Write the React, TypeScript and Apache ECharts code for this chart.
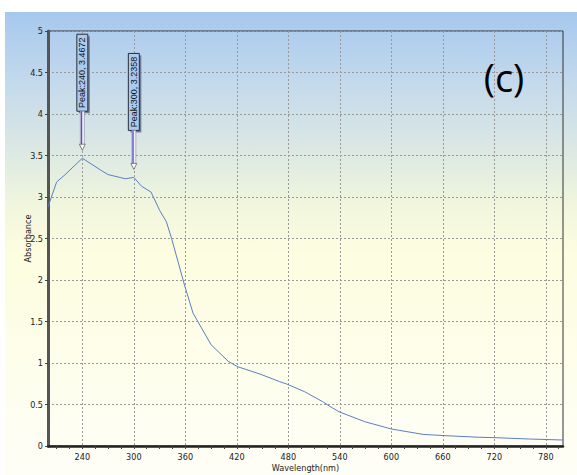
import React, { useEffect, useRef } from "react";
import * as echarts from "echarts";

const wavelength = [200, 210, 220, 240, 262, 270, 290, 300, 309, 320, 330, 338, 344, 359, 369, 390, 410, 421, 447, 470, 478, 499, 520, 528, 539, 569, 600, 637, 664, 703, 722, 761, 800];
const absorbance = [2.88, 3.18, 3.27, 3.4672, 3.32, 3.27, 3.22, 3.2358, 3.13, 3.06, 2.84, 2.7, 2.5, 1.94, 1.6, 1.22, 1.02, 0.955, 0.867, 0.775, 0.747, 0.654, 0.534, 0.48, 0.413, 0.293, 0.205, 0.14, 0.124, 0.105, 0.1, 0.084, 0.072];
const peakWavelengths = [240, 300];
const peakValues = [3.4672, 3.2358];
const peakLabels = ["Peak:240, 3.4672", "Peak:300, 3.2358"];
const xMajorTicks = [240, 300, 360, 420, 480, 540, 600, 660, 720, 780];
const xMinorTicks = [210, 225, 240, 255, 270, 285, 300, 315, 330, 345, 360, 375, 390, 405, 420, 435, 450, 465, 480, 495, 510, 525, 540, 555, 570, 585, 600, 615, 630, 645, 660, 675, 690, 705, 720, 735, 750, 765, 780, 795];

const labelFont = "'Liberation Sans Narrow', 'DejaVu Sans Condensed', 'Liberation Sans', sans-serif";

export default function App() {
  const ref = useRef<HTMLDivElement>(null);
  useEffect(() => {
    document.body.style.margin = "0";
    const chart = echarts.init(ref.current!, null, { renderer: "svg" });
    const curve = wavelength.map((w, i) => [w, absorbance[i]]);
    const peaks = peakWavelengths.map((w, i) => [w, peakValues[i], i]);
    const option: any = {
      animation: false,
      graphic: [
        {
          type: "rect",
          z: -10,
          silent: true,
          shape: { x: 5, y: 12, width: 572, height: 463 },
          style: {
            fill: {
              type: "linear", x: 0, y: 0, x2: 0, y2: 1,
              colorStops: [
                { offset: 0, color: "#a6c8ee" },
                { offset: 0.15, color: "#c3d9ec" },
                { offset: 0.3, color: "#dce8e3" },
                { offset: 0.42, color: "#f1f6dd" },
                { offset: 0.52, color: "#fdfde0" },
                { offset: 1, color: "#fefef7" },
              ],
            },
          },
        },
        {
          type: "text",
          z: 20,
          x: 504,
          y: 77,
          style: {
            text: "(c)",
            fontSize: 38,
            fontFamily: "'Open Sans', 'Noto Sans', sans-serif",
            fill: "#000",
            align: "center",
            verticalAlign: "middle",
          },
        },
      ],
      grid: {
        left: 48, top: 31, right: 14, bottom: 29,
        outerBoundsMode: "none",
        containLabel: false,
        show: true, borderColor: "#333", borderWidth: 1, backgroundColor: "transparent",
      },
      xAxis: [
        {
          type: "value", min: 200, max: 800, position: "bottom",
          name: "Wavelength(nm)", nameLocation: "middle", nameGap: 17, nameMoveOverlap: false,
          nameTextStyle: { fontSize: 9, color: "#222", fontFamily: labelFont },
          axisLine: { show: true, onZero: false, lineStyle: { color: "#222", width: 2.5 } },
          axisTick: { show: true, customValues: xMajorTicks, length: 3, lineStyle: { color: "#444" } },
          axisLabel: { customValues: xMajorTicks, fontSize: 9, color: "#222", margin: 6, fontFamily: labelFont },
          splitLine: { show: true, lineStyle: { color: "#999", type: [2, 2], width: 1 } },
        },
        {
          type: "value", min: 200, max: 800, position: "bottom",
          axisLine: { show: false, onZero: false },
          axisTick: { show: true, customValues: xMinorTicks, length: 3, lineStyle: { color: "#444" } },
          axisLabel: { show: false },
          splitLine: { show: false },
        },
      ],
      yAxis: {
        type: "value", min: 0, max: 5, interval: 0.5,
        name: "Absorbance", nameLocation: "middle", nameGap: 16, nameMoveOverlap: false,
        nameTextStyle: { fontSize: 9, color: "#222", fontFamily: labelFont },
        axisLine: { show: true, lineStyle: { color: "#555", width: 3 } },
        axisTick: { show: true, length: 3, lineStyle: { color: "#444" } },
        axisLabel: { fontSize: 9, color: "#222", margin: 5, fontFamily: labelFont },
        splitLine: { show: true, lineStyle: { color: "#999", type: [2, 2], width: 1 } },
      },
      series: [
        {
          type: "line",
          data: curve,
          showSymbol: false,
          symbol: "none",
          lineStyle: { color: "#5b7ec2", width: 1 },
          z: 3,
        },
        {
          type: "custom",
          data: peaks,
          clip: false,
          z: 10,
          renderItem: (params: any, api: any) => {
            const p = api.coord([api.value(0), api.value(1)]);
            const label = peakLabels[api.value(2)];
            const cx = p[0];
            const tip = p[1] - 8;
            const stemTop = tip - 39;
            const boxH = 77;
            const boxW = 11;
            const boxTop = stemTop - boxH;
            return {
              type: "group",
              children: [
                { type: "rect", shape: { x: cx - boxW / 2 + 2, y: boxTop + 2, width: boxW, height: boxH }, style: { fill: "#6f7f90" } },
                { type: "rect", shape: { x: cx - boxW / 2, y: boxTop, width: boxW, height: boxH }, style: { fill: "#a9cbf0", stroke: "#2b2b3b", lineWidth: 1 } },
                {
                  type: "text", x: cx, y: boxTop + boxH / 2, rotation: Math.PI / 2,
                  style: { text: label, fontSize: 9, fill: "#111", align: "center", verticalAlign: "middle", fontFamily: "'Liberation Sans', sans-serif" },
                },
                { type: "rect", shape: { x: cx - 2, y: stemTop, width: 4, height: tip - stemTop - 5 }, style: { fill: "#f4f4f8", stroke: "#8a8a9a", lineWidth: 0.6 } },
                { type: "line", shape: { x1: cx - 0.8, y1: stemTop, x2: cx - 0.8, y2: tip - 5 }, style: { stroke: "#5a50d8", lineWidth: 1.4 } },
                { type: "polygon", shape: { points: [[cx - 3, tip - 6], [cx + 3, tip - 6], [cx, tip]] }, style: { fill: "#fff", stroke: "#666", lineWidth: 0.8 } },
              ],
            };
          },
        },
      ],
    };
    chart.setOption(option);
    return () => chart.dispose();
  }, []);
  return <div ref={ref} style={{ width: 577, height: 475, background: "#fff" }} />;
}
